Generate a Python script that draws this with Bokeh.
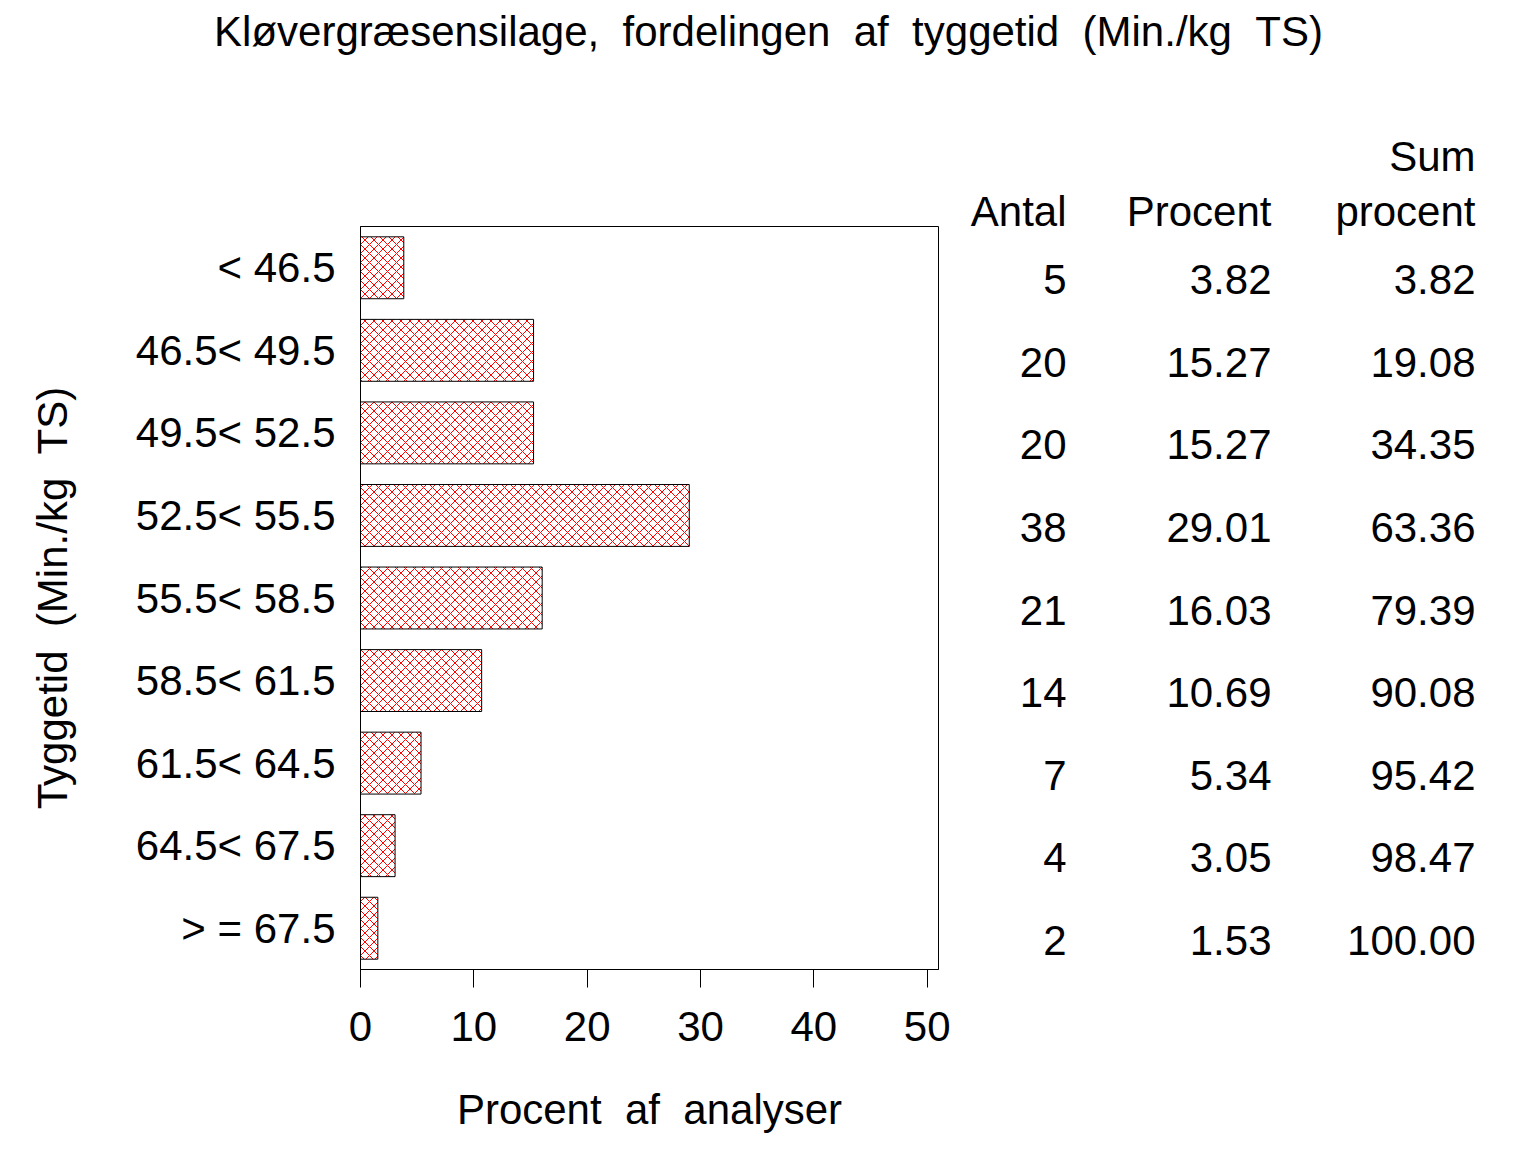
from bokeh.plotting import figure
from bokeh.models import ColumnDataSource, Range1d, FactorRange, FixedTicker
from bokeh.layouts import column, row
from bokeh.embed import file_html
from bokeh.resources import INLINE
from bokeh.core.properties import value

# ---- data ----
categories = ["< 46.5", "46.5< 49.5", "49.5< 52.5", "52.5< 55.5", "55.5< 58.5",
              "58.5< 61.5", "61.5< 64.5", "64.5< 67.5", "> = 67.5"]
antal = [5, 20, 20, 38, 21, 14, 7, 4, 2]
procent = [3.82, 15.27, 15.27, 29.01, 16.03, 10.69, 5.34, 3.05, 1.53]
sum_procent = [3.82, 19.08, 34.35, 63.36, 79.39, 90.08, 95.42, 98.47, 100.00]
x_ticks = [0, 10, 20, 30, 40, 50]
title_text = "Kløvergræsensilage,  fordelingen  af  tyggetid  (Min./kg  TS)"
y_label = "Tyggetid  (Min./kg  TS)"
x_label = "Procent  af  analyser"
headers_top = ["", "", "Sum"]
headers = ["Antal", "Procent", "procent"]

NB = " \u00a0"  # keeps the wide word gaps of the original


def wide(s):
    return s.replace("  ", NB)


FONT = "Liberation Sans"
FS = "42px"

# ---- layout constants ----
TOTAL_W = 1536
LEFT_W = 968
RIGHT_W = TOTAL_W - LEFT_W
TOP_H = 100
FRAME_TOP = 126          # bar-chart frame top inside the row
FRAME_H = 743
BOTTOM = 172
ROW_H = FRAME_TOP + FRAME_H + BOTTOM
HEAD_H = 146             # header strip above the table body

# ---- title figure ----
pt = figure(width=TOTAL_W, height=TOP_H, x_range=(0, 1), y_range=(0, 1),
            toolbar_location=None, output_backend="svg", title=wide(title_text),
            min_border_left=0, min_border_right=0, min_border_top=14, min_border_bottom=0)
pt.title.align = "center"
pt.title.text_font = FONT
pt.title.text_font_size = FS
pt.title.text_font_style = "normal"
pt.title.text_color = "black"
pt.axis.visible = False
pt.grid.visible = False
pt.outline_line_color = None

# ---- bar chart ----
src = ColumnDataSource(dict(cat=categories, pct=procent))
p = figure(width=LEFT_W, height=ROW_H, y_range=FactorRange(*reversed(categories)),
           x_range=Range1d(0, 51), toolbar_location=None, output_backend="svg",
           min_border_left=360, min_border_right=LEFT_W - 360 - 578,
           min_border_top=FRAME_TOP, min_border_bottom=BOTTOM)
p.hbar(y="cat", left=0, right="pct", height=0.75, source=src,
       fill_color="white", line_color="black", line_width=1,
       hatch_pattern="x", hatch_color="red", hatch_scale=9, hatch_weight=1)
p.grid.visible = False
p.outline_line_color = "black"
p.outline_line_width = 1

xa = p.xaxis[0]
xa.ticker = FixedTicker(ticks=x_ticks)
xa.minor_tick_line_color = None
xa.major_tick_out = 18
xa.major_tick_in = 0
xa.major_tick_line_color = "black"
xa.axis_line_color = "black"
xa.major_label_text_font = FONT
xa.major_label_text_font_size = FS
xa.major_label_text_color = "black"
xa.major_label_standoff = 24
xa.axis_label = wide(x_label)
xa.axis_label_text_font = FONT
xa.axis_label_text_font_size = FS
xa.axis_label_text_font_style = "normal"
xa.axis_label_text_color = "black"
xa.axis_label_standoff = 42

ya = p.yaxis[0]
ya.major_tick_out = 0
ya.major_tick_in = 0
ya.minor_tick_line_color = None
ya.axis_line_color = "black"
ya.major_label_text_font = FONT
ya.major_label_text_font_size = FS
ya.major_label_text_color = "black"
ya.major_label_standoff = 25
ya.axis_label = wide(y_label)
ya.axis_label_text_font = FONT
ya.axis_label_text_font_size = FS
ya.axis_label_text_font_style = "normal"
ya.axis_label_text_color = "black"
ya.axis_label_standoff = 57

# ---- table: header strip + body ----
n = len(categories)
px_per_row = FRAME_H / n
col_x = [98, 303, 507]

ph = figure(width=RIGHT_W, height=HEAD_H, x_range=Range1d(0, RIGHT_W),
            y_range=Range1d(HEAD_H, 0), toolbar_location=None, output_backend="svg",
            min_border_left=0, min_border_right=0, min_border_top=0, min_border_bottom=0)
ph.axis.visible = False
ph.grid.visible = False
ph.outline_line_color = None
hx, hy, ht = [], [], []
for cx, h in zip(col_x, headers):
    hx.append(cx); hy.append(FRAME_TOP - 15); ht.append(h)
for cx, h in zip(col_x, headers_top):
    if h:
        hx.append(cx); hy.append(FRAME_TOP - 70); ht.append(h)
ph.text(x=hx, y=hy, text=ht, text_align="right", text_baseline="middle",
        text_font=value(FONT), text_font_size=FS, text_color="black")

gap_rows = (HEAD_H - FRAME_TOP) / px_per_row
pr = figure(width=RIGHT_W, height=ROW_H - HEAD_H, x_range=Range1d(0, RIGHT_W),
            y_range=Range1d(n, gap_rows), toolbar_location=None, output_backend="svg",
            min_border_left=0, min_border_right=0,
            min_border_top=0, min_border_bottom=BOTTOM)
pr.axis.visible = False
pr.grid.visible = False
pr.outline_line_color = None

cols = [[str(a) for a in antal],
        [f"{v:.2f}" for v in procent],
        [f"{v:.2f}" for v in sum_procent]]
xs, ys, ts = [], [], []
for cx, vals in zip(col_x, cols):
    for i, t in enumerate(vals):
        xs.append(cx); ys.append(i + 0.5 + 12 / px_per_row); ts.append(t)
tsrc = ColumnDataSource(dict(x=xs, y=ys, t=ts))
pr.text(x="x", y="y", text="t", source=tsrc, text_align="right",
        text_baseline="middle", text_font=value(FONT), text_font_size=FS,
        text_color="black")

layout = column(pt, row(p, column(ph, pr)))
open("out.html", "w").write(file_html(layout, INLINE))
